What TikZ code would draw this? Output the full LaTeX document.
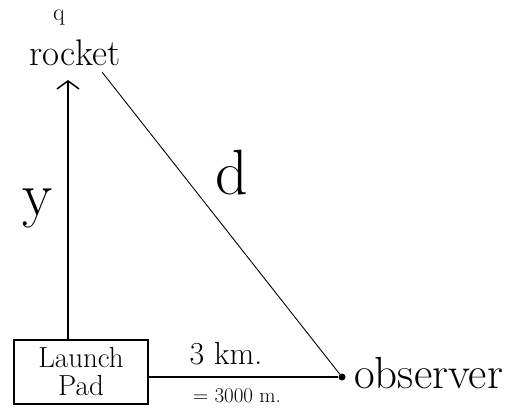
\documentclass[tikz,border=0pt]{standalone}
\usetikzlibrary{arrows.meta}
\begin{document}
\begin{tikzpicture}[x=1pt,y=-1pt,
  lbl/.style={inner sep=0pt,anchor=center},
  thickline/.style={line width=1.8pt,black},
  thinline/.style={line width=0.9pt,black},
  padbox/.style={draw,line width=1.5pt,minimum width=134pt,minimum height=64pt,inner sep=0pt,align=center,font=\fontsize{29}{28}\selectfont}
]
\useasboundingbox (0,0) rectangle (511,411);
% labels
\node[lbl,font=\fontsize{24}{24}\selectfont] (q) at (59,18) {q};
\node[lbl,font=\fontsize{37}{37}\selectfont] (rocket) at (75,53) {rocket};
\node[lbl,font=\fontsize{62}{62}\selectfont] (y) at (38,208) {y};
\node[lbl,font=\fontsize{64}{64}\selectfont] (d) at (232,173) {d};
% launch pad
\node[padbox] (pad) at (81,372) {Launch\\Pad};
% observer
\node[circle,fill=black,inner sep=0pt,minimum size=7pt] (obs) at (342,377) {};
\node[lbl,anchor=west,font=\fontsize{45}{45}\selectfont] (obslabel) at (354,373) {observer};
% distance labels
\node[lbl,font=\fontsize{32}{32}\selectfont] (km) at (226,354) {3 km.};
\node[lbl,font=\fontsize{21}{21}\selectfont] (m) at (237,396) {= 3000 m.};
% connectors
\coordinate (top) at (68,80);
\coordinate (dstart) at (102,72);
\draw[thickline,-{Straight Barb[width=22pt,length=8pt,line width=1.5pt]}] (pad.north -| top) -- (top);
\draw[thinline] (dstart) -- (obs);
\draw[thickline] (pad.east |- obs) -- (obs);
\end{tikzpicture}
\end{document}
